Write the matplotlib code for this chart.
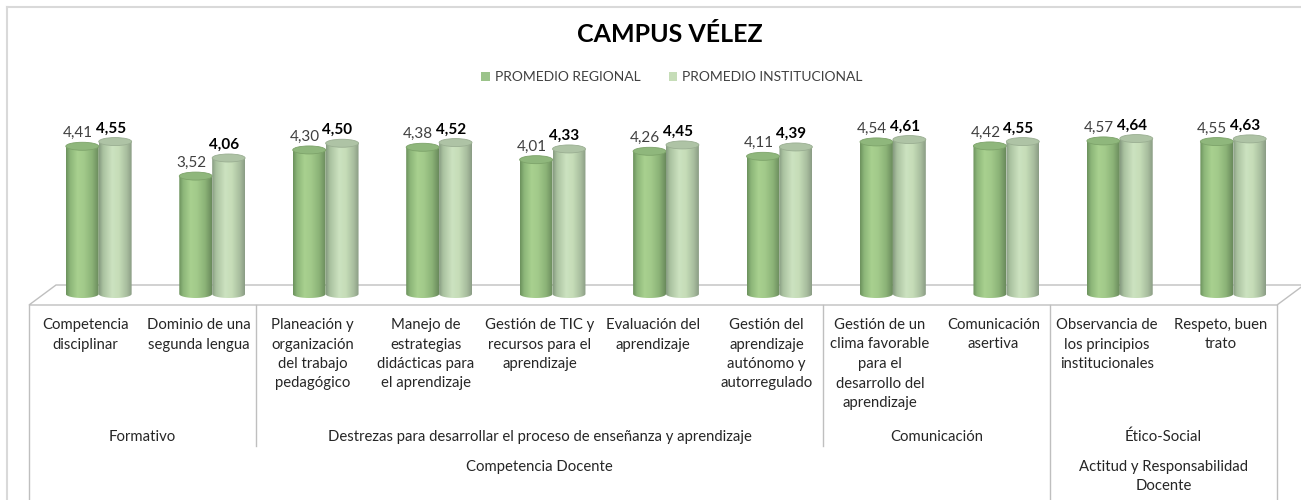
import numpy as np
import matplotlib
matplotlib.use('Agg')
import matplotlib.pyplot as plt
from matplotlib.patches import Ellipse, PathPatch, Patch, Polygon
from matplotlib.path import Path
from matplotlib.lines import Line2D
from matplotlib.colors import to_rgb
from matplotlib.transforms import blended_transform_factory

plt.rcParams['font.family'] = ['Lato', 'DejaVu Sans']

# datos
categorias = ['Competencia\ndisciplinar', 'Dominio de una\nsegunda lengua',
              'Planeación y\norganización\ndel trabajo\npedagógico',
              'Manejo de\nestrategias\ndidácticas para\nel aprendizaje',
              'Gestión de TIC y\nrecursos para el\naprendizaje',
              'Evaluación del\naprendizaje',
              'Gestión del\naprendizaje\nautónomo y\nautorregulado',
              'Gestión de un\nclima favorable\npara el\ndesarrollo del\naprendizaje',
              'Comunicación\nasertiva',
              'Observancia de\nlos principios\ninstitucionales',
              'Respeto, buen\ntrato']
regional = [4.41, 3.52, 4.30, 4.38, 4.01, 4.26, 4.11, 4.54, 4.42, 4.57, 4.55]
institucional = [4.55, 4.06, 4.50, 4.52, 4.33, 4.45, 4.39, 4.61, 4.55, 4.64, 4.63]
series = ['PROMEDIO REGIONAL', 'PROMEDIO INSTITUCIONAL']
grupos = ['Formativo', 'Destrezas para desarrollar el proceso de enseñanza y aprendizaje',
          'Comunicación', 'Ético-Social']
grupos_rango = [(0, 1), (2, 6), (7, 8), (9, 10)]
nivel3 = ['Competencia Docente', 'Actitud y Responsabilidad\nDocente']
nivel3_rango = [(0, 8), (9, 10)]

W, H = 1301, 500
def fx(px): return px / W
def fy(py): return 1 - py / H

PPX = 1248 / 11.0   # pixels per category
PPY = 33.5          # pixels per value unit
def dx(px): return px / PPX
def dy(px): return px / PPY

fig = plt.figure(figsize=(W / 100, H / 100), dpi=100)
ax = fig.add_axes([fx(29), fy(305), fx(1277) - fx(29), fy(100) - fy(305)])
trans = blended_transform_factory(ax.transData, fig.transFigure)

gris = '#BFBFBF'

# piso 3D
yf, yb, sh = dy(-11), dy(9), dx(27)
n = len(categorias)
floor = Polygon([(-0.5, yf), (n - 0.5, yf), (n - 0.5 + sh, yb), (-0.5 + sh, yb)],
                closed=True, facecolor='white', edgecolor=gris, lw=1, zorder=1, clip_on=False)
ax.add_patch(floor)

stops_reg = [(0.0, '#6C925D'), (0.12, '#8CB679'), (0.35, '#A8D08F'), (0.55, '#A2CA8A'),
             (0.8, '#8BB277'), (1.0, '#6A8B5C')]
stops_ins = [(0.0, '#889D82'), (0.12, '#AAC2A0'), (0.4, '#CCE2C0'), (0.6, '#C6DDB8'),
             (0.85, '#A8BD9E'), (1.0, '#8B9D85')]

def gradiente(stops, npx=64):
    pos = np.array([s[0] for s in stops])
    cols = np.array([to_rgb(s[1]) for s in stops])
    t = np.linspace(0, 1, npx)
    img = np.stack([np.interp(t, pos, cols[:, k]) for k in range(3)], axis=-1)
    return img[np.newaxis, :, :]

w = 0.29
off = dx(13)
eh = dy(4)
z = [3.0]

def cilindro(x0, v, stops, top_face, top_edge):
    x1 = x0 + w
    xc = (x0 + x1) / 2
    t = np.linspace(np.pi, 2 * np.pi, 40)
    verts = [(x0, v)] + list(zip(xc + (w / 2) * np.cos(t), eh * np.sin(t))) + [(x1, v), (x0, v)]
    path = Path(np.array(verts), closed=True)
    im = ax.imshow(gradiente(stops), extent=[x0, x1, -eh, v], aspect='auto',
                   interpolation='bilinear', zorder=z[0])
    pp = PathPatch(path, transform=ax.transData, facecolor='none', edgecolor='none')
    im.set_clip_path(pp)
    ax.add_patch(Ellipse((xc, v), w, 2 * eh, facecolor=top_face, edgecolor=top_edge,
                         lw=0.6, zorder=z[0] + 0.001))
    z[0] += 0.01

for i in range(n):
    xr = i + off - w
    xi = i + off
    cilindro(xr, regional[i], stops_reg, '#8FB77C', '#7DA36A')
    cilindro(xi, institucional[i], stops_ins, '#AEC3A5', '#9AAE92')
    ax.text(xr + w / 2 - 0.04, regional[i] + eh + dy(5), f'{regional[i]:.2f}'.replace('.', ','),
            ha='center', va='baseline', fontsize=11, color='#404040', zorder=10)
    ax.text(xi + w / 2 - 0.04, institucional[i] + eh + dy(5), f'{institucional[i]:.2f}'.replace('.', ','),
            ha='center', va='baseline', fontsize=11, fontweight='bold', color='black', zorder=10)

ax.set_xlim(-0.5, n - 0.5)
ax.set_ylim(dy(-11), dy(194))
ax.axis('off')

# tabla de categorias
txt = '#262626'
for i, c in enumerate(categorias):
    ax.text(i, fy(318), c, transform=trans, ha='center', va='top', fontsize=10.7,
            color=txt, linespacing=1.5)
for g, (a, b) in zip(grupos, grupos_rango):
    ax.text((a + b) / 2, fy(437), g, transform=trans, ha='center', va='center',
            fontsize=10.7, color=txt)
for g, (a, b) in zip(nivel3, nivel3_rango):
    ax.text((a + b) / 2, fy(460), g, transform=trans, ha='center', va='top',
            fontsize=10.7, color=txt, linespacing=1.5)

for xb, end in [(-0.5, 500), (1.5, 446), (6.5, 446), (8.5, 500), (10.5, 500)]:
    ax.plot([xb, xb], [fy(305), fy(end)], transform=trans, color=gris, lw=1, clip_on=False)

# titulo y leyenda
fig.text(fx(670), fy(34), 'CAMPUS VÉLEZ', ha='center', va='center', fontsize=18,
         fontweight='bold', color='black')
handles = [Patch(facecolor='#9BC38A', label=series[0]), Patch(facecolor='#C6DDB8', label=series[1])]
leg = fig.legend(handles=handles, loc='center', bbox_to_anchor=(fx(672), fy(77)), ncol=2,
                 frameon=False, fontsize=10, handlelength=0.6, handleheight=0.6,
                 handletextpad=0.4, columnspacing=2.0)
for t_ in leg.get_texts():
    t_.set_color('#404040')

# borde del grafico
fig.add_artist(Line2D([fx(7), fx(7)], [fy(7), 0], transform=fig.transFigure, color='#D9D9D9', lw=1.5))
fig.add_artist(Line2D([fx(7), 1], [fy(7), fy(7)], transform=fig.transFigure, color='#D9D9D9', lw=1.5))

fig.savefig('out.png', dpi=100)
